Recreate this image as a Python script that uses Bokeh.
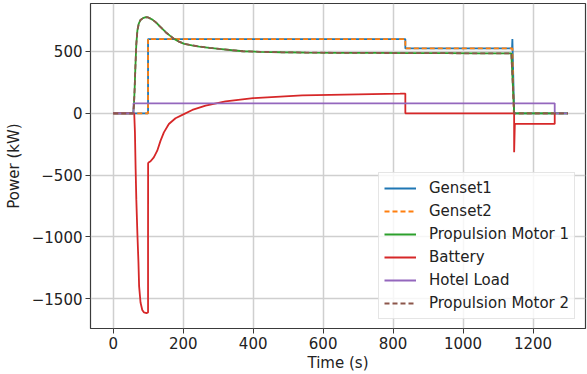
from bokeh.plotting import figure
from bokeh.models import Range1d, FixedTicker, CustomJSTickFormatter
from bokeh.embed import file_html
from bokeh.resources import INLINE

# ---- data ----
genset1_t = [0, 99.5, 99.5, 835, 835, 1140, 1141, 1146, 1300]
genset1_p = [0, 0, 600, 600, 525, 525, 600, 0, 0]

genset2_t = [0, 99.5, 99.5, 835, 835, 1141, 1145, 1300]
genset2_p = [0, 0, 600, 600, 525, 525, 0, 0]

motor_t = [0, 57, 59, 61, 63, 66, 69, 73, 78, 85, 93, 100, 112, 122, 131, 140,
           150, 162, 174, 188, 203, 225, 246, 275, 303, 340, 371, 420, 480, 550,
           650, 750, 850, 950, 1050, 1138, 1146, 1300]
motor1_p = [0, 0, 60, 185, 350, 560, 669, 725, 755, 770, 777, 775, 758, 735, 710, 684,
            656, 628, 602, 580, 562, 550, 540, 530, 521, 510, 502, 497, 494, 491,
            489, 488, 487, 486, 485, 485, 0, 0]
motor2_p = list(motor1_p)

battery_t = [0, 60, 62, 64, 66, 69, 72, 74, 78, 83, 88, 95, 99.5, 99.5, 99.7,
             101, 106.7, 116, 125.8, 135.3, 144.8, 159, 178, 199, 226, 264, 321,
             400, 540, 700, 820, 835, 835, 1146, 1146, 1148, 1262, 1262]
battery_p = [0, 0, -150, -450, -700, -970, -1200, -1400, -1530, -1590, -1610, -1615,
             -1610, -1000, -405, -398, -388, -356, -302, -221, -154, -86, -40, -11,
             27, 62, 97, 123, 145, 153, 159, 160, 0, 0, -314, -86, -86, 0]

hotel_t = [0, 58, 58, 1262, 1262, 1300]
hotel_p = [0, 0, 81, 81, 0, 0]

x_ticks = [0, 200, 400, 600, 800, 1000, 1200]
y_ticks = [-1500, -1000, -500, 0, 500]

FONT = "DejaVu Sans"
TXT = "#222222"

p = figure(width=587, height=374, output_backend="svg", toolbar_location=None,
           x_range=Range1d(-65, 1350), y_range=Range1d(-1740, 888),
           min_border_left=90, min_border_right=2, min_border_top=3,
           min_border_bottom=46, x_axis_label="Time (s)", y_axis_label="Power (kW)")

p.background_fill_color = "white"
p.border_fill_color = "white"
p.outline_line_color = "#3a3a3a"
p.outline_line_width = 1.2

lw = 1.8
p.line(genset1_t, genset1_p, color="#1f77b4", line_width=lw, legend_label="Genset1")
p.line(genset2_t, genset2_p, color="#ff7f0e", line_width=lw, line_dash="5 3",
       legend_label="Genset2")
p.line(motor_t, motor1_p, color="#2ca02c", line_width=lw, legend_label="Propulsion Motor 1")
p.line(battery_t, battery_p, color="#d62728", line_width=lw, legend_label="Battery")
p.line(hotel_t, hotel_p, color="#9467bd", line_width=lw, legend_label="Hotel Load")
p.line(motor_t, motor2_p, color="#8c564b", line_width=lw, line_dash="5 3",
       legend_label="Propulsion Motor 2")

fmt = CustomJSTickFormatter(code="""
return tick < 0 ? "\u2212" + Math.abs(tick) : String(tick);
""")

for ax in (p.xaxis[0], p.yaxis[0]):
    ax.axis_line_color = None
    ax.major_tick_line_color = "#3a3a3a"
    ax.major_tick_out = 5
    ax.major_tick_in = 0
    ax.minor_tick_line_color = None
    ax.major_label_text_font = FONT
    ax.major_label_text_font_size = "15px"
    ax.major_label_text_color = TXT
    ax.axis_label_text_font = FONT
    ax.axis_label_text_font_size = "15px"
    ax.axis_label_text_font_style = "normal"
    ax.axis_label_text_color = TXT
    ax.major_label_standoff = 3
    ax.formatter = fmt

p.xaxis[0].ticker = FixedTicker(ticks=x_ticks)
p.yaxis[0].ticker = FixedTicker(ticks=y_ticks)
p.xaxis[0].axis_label_standoff = 2
p.yaxis[0].axis_label_standoff = 6

p.xgrid.grid_line_color = "#cfcfcf"
p.ygrid.grid_line_color = "#cfcfcf"
p.xgrid.grid_line_width = 1.5
p.ygrid.grid_line_width = 1.5
p.xgrid.ticker = FixedTicker(ticks=x_ticks)
p.ygrid.ticker = FixedTicker(ticks=y_ticks)

lg = p.legend[0]
lg.location = (288, 9)
lg.label_text_font = FONT
lg.label_text_font_size = "15px"
lg.label_text_color = TXT
lg.glyph_width = 32
lg.glyph_height = 20
lg.label_height = 20
lg.spacing = 3
lg.padding = 5
lg.margin = 0
lg.label_standoff = 13
lg.border_line_color = "#cccccc"
lg.border_line_width = 1
lg.background_fill_color = "white"
lg.background_fill_alpha = 0.8

open("out.html", "w").write(file_html(p, INLINE))
